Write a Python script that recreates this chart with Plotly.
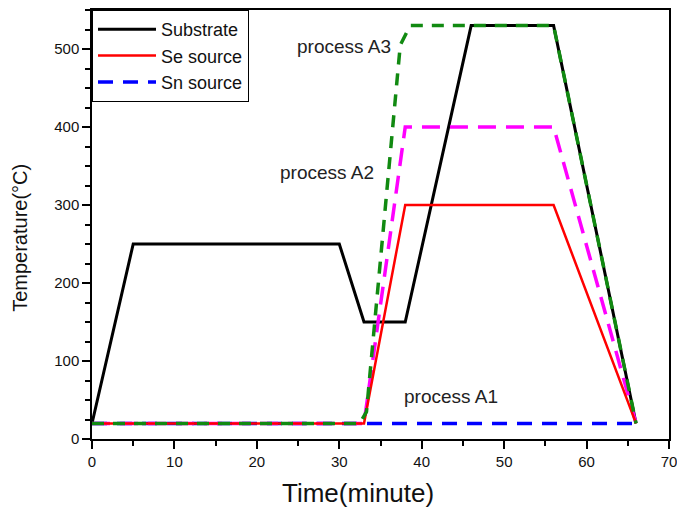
import plotly.graph_objects as go

# Data (time in minutes, temperature in °C)
sub_t = [0, 5, 30, 33, 38, 46, 56, 66]
sub_T = [20, 250, 250, 150, 150, 530, 530, 20]

se_t = [0, 33, 38, 56, 66]
se_T = [20, 20, 300, 300, 20]

sn_t = [0, 66]
sn_T = [20, 20]

a2_t = [0, 33, 38, 56, 66]
a2_T = [20, 20, 400, 400, 20]

a3_t = [0, 32.5, 33.3, 37.4, 38.6, 56, 66]
a3_T = [20, 20, 35, 505, 530, 530, 20]

labels = ["process A3", "process A2", "process A1"]
label_x = [24.6, 22.6, 37.6]
label_y = [503, 342, 54]

x_title = "Time(minute)"
y_title = "Temperature(°C)"

FONT = "Liberation Sans, Arial, sans-serif"

fig = go.Figure()
fig.add_trace(go.Scatter(x=sn_t, y=sn_T, mode="lines", name="Sn source", legendrank=3,
                         line=dict(color="#0000ff", width=3.5, dash="15px,10px")))
fig.add_trace(go.Scatter(x=sub_t, y=sub_T, mode="lines", name="Substrate", legendrank=1,
                         line=dict(color="#000000", width=3)))
fig.add_trace(go.Scatter(x=a2_t, y=a2_T, mode="lines", name="process A2", showlegend=False,
                         line=dict(color="#ff00ff", width=3.5, dash="18px,10px")))
fig.add_trace(go.Scatter(x=se_t, y=se_T, mode="lines", name="Se source", legendrank=2,
                         line=dict(color="#ff0000", width=2.5)))
fig.add_trace(go.Scatter(x=a3_t, y=a3_T, mode="lines", name="process A3", showlegend=False,
                         line=dict(color="#118a11", width=3.5, dash="12px,9px")))

for txt, x, y in zip(labels, label_x, label_y):
    fig.add_annotation(x=x, y=y, text=txt, showarrow=False, xanchor="left", yanchor="middle",
                       font=dict(family=FONT, size=19, color="#222222"))

# Axis titles (placed slightly off-centre as in the original)
fig.add_annotation(xref="paper", yref="paper", x=0.461, y=-0.126, text=x_title,
                   showarrow=False, xanchor="center", yanchor="middle",
                   font=dict(family=FONT, size=26, color="#111111"))
fig.add_annotation(xref="paper", yref="paper", x=-0.124, y=0.47, text=y_title,
                   showarrow=False, xanchor="center", yanchor="middle", textangle=-90,
                   font=dict(family=FONT, size=20, color="#111111"))

axis_common = dict(showgrid=False, zeroline=False, showline=True, linecolor="#000000",
                   linewidth=1.5, mirror=True, ticks="outside", ticklen=8, tickwidth=1.5,
                   tickcolor="#000000", automargin=False,
                   tickfont=dict(family=FONT, size=15, color="#111111"))

fig.update_xaxes(range=[0, 70], dtick=10, tick0=0,
                 minor=dict(dtick=5, ticks="outside", ticklen=5, tickwidth=1.5, tickcolor="#000000"),
                 **axis_common)
fig.update_yaxes(range=[0, 550], dtick=100, tick0=0,
                 minor=dict(dtick=25, ticks="outside", ticklen=5, tickwidth=1.5, tickcolor="#000000"),
                 **axis_common)

# The page body adds an 8px offset, so the figure is 8px smaller and margins shifted.
fig.update_layout(
    width=677, height=512,
    margin=dict(l=84, r=16, t=2, b=81),
    paper_bgcolor="#ffffff", plot_bgcolor="#ffffff",
    showlegend=True,
    legend=dict(x=0, y=1, xanchor="left", yanchor="top", bgcolor="#ffffff",
                bordercolor="#000000", borderwidth=1,
                font=dict(family=FONT, size=18, color="#111111"),
                itemwidth=58, tracegroupgap=0),
)

fig.write_html("out.html")
